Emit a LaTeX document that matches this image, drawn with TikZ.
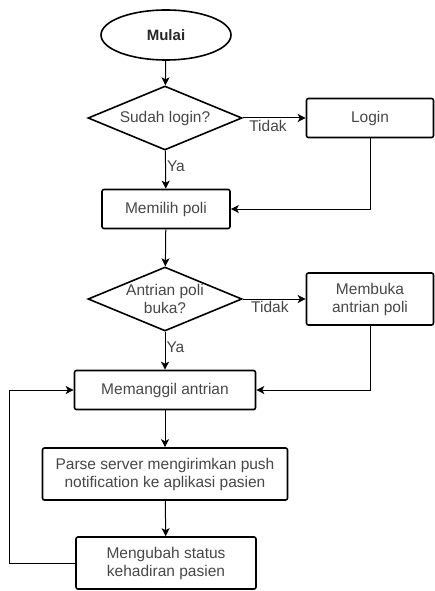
\documentclass[tikz,border=0pt]{standalone}
\usepackage{fontspec}
\setmainfont{Liberation Sans}
\usetikzlibrary{shapes.geometric,arrows.meta}
\begin{document}
\begin{tikzpicture}[x=1pt,y=-1pt]
  \tikzstyle{every node}=[font=\fontsize{15.5}{18}\selectfont, text=black!72]
  \tikzstyle{terminal}=[ellipse, draw=black, line width=1.6pt, minimum width=130pt, minimum height=50pt, font=\fontsize{15}{18}\selectfont\bfseries, text=black!85]
  \tikzstyle{proses}=[draw=black, line width=1.6pt, rounded corners=2pt, align=center, inner sep=0pt]
  \tikzstyle{keputusan}=[diamond, draw=black, line width=1.6pt, align=center, inner sep=0pt, aspect=2.4, minimum width=154pt, minimum height=64pt]
  \tikzstyle{panah}=[-{Stealth[length=8pt,width=8pt,inset=2pt]}, line width=1pt]
  \tikzstyle{ket}=[inner sep=1pt]

  \useasboundingbox (0,0) rectangle (435,591);

  \path (166,35) node[terminal] (mulai) {Mulai};
  \path (165,118) node[keputusan] (cek1) {Sudah login?};
  \path (370,118) node[proses, minimum width=127pt, minimum height=39pt] (login) {Login};
  \path (166,209) node[proses, minimum width=128pt, minimum height=39pt] (poli) {Memilih poli};
  \path (165,299) node[keputusan] (cek2) {Antrian poli\\buka?};
  \path (370,299) node[proses, minimum width=127pt, minimum height=52pt] (buka) {Membuka\\antrian poli};
  \path (165,390) node[proses, minimum width=181pt, minimum height=39pt] (panggil) {Memanggil antrian};
  \path (165,474) node[proses, minimum width=245pt, minimum height=52pt] (notif) {Parse server mengirimkan push\\notification ke aplikasi pasien};
  \path (166,563) node[proses, minimum width=180pt, minimum height=52pt] (status) {Mengubah status\\kehadiran pasien};

  \draw[panah] (mulai) -- (cek1);
  \draw[panah] (cek1) -- node[ket, pos=0.4, below, yshift=-1pt] (tidak1) {Tidak} (login);
  \draw[panah] (cek1) -- node[ket, pos=0.4, right] (ya1) {Ya} (poli);
  \draw[panah] (login.south) |- (poli.east);
  \draw[panah] (poli) -- (cek2);
  \draw[panah] (cek2) -- node[ket, pos=0.43, below, yshift=-1pt] (tidak2) {Tidak} (buka);
  \draw[panah] (cek2) -- node[ket, pos=0.4, right] (ya2) {Ya} (panggil);
  \draw[panah] (buka.south) |- (panggil.east);
  \draw[panah] (panggil) -- (notif);
  \draw[panah] (notif) -- (status);
  \draw[panah] (status.west) -- ++(-66,0) |- (panggil.west);
\end{tikzpicture}
\end{document}
